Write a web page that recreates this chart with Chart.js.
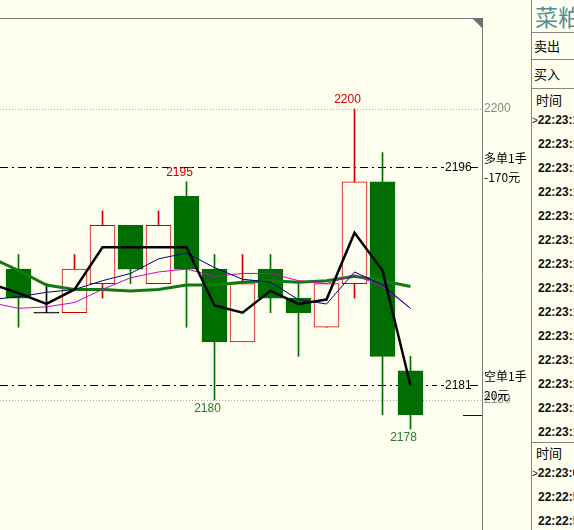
<!DOCTYPE html>
<html lang="zh">
<head>
<meta charset="UTF-8">
<title>菜粕</title>
<script src="https://cdn.jsdelivr.net/npm/chart.js"></script>
<style>
    html, body { margin: 0; padding: 0; background: #FFFFF0; overflow: hidden; }
    #wrap { position: relative; width: 574px; height: 530px; }
    #kline { position: absolute; left: 0; top: 0; }
    #panel {
        position: absolute; left: 531px; top: 0; width: 43px; height: 530px;
        border-left: 1px solid #888; overflow: hidden;
        font-family: "Noto Sans CJK SC", sans-serif; color: #000;
    }
    #panel div { position: absolute; white-space: nowrap; line-height: 1; }
    #panel .hr { left: 0; width: 43px; height: 0; border-top: 1px solid #888; }
    #panel .time { font-family: "Liberation Sans", Arial, sans-serif; font-size: 12px; font-weight: bold; color: #111; }
</style>
</head>
<body>
<div id="wrap">
    <canvas id="kline" width="531" height="530"></canvas>
    <div id="panel"></div>
</div>
<script>
    // candle index 0 sits just off the left edge (only the averages show)
    const idx = [0, 1, 2, 3, 4, 5, 6, 7, 8, 9, 10, 11, 12, 13, 14, 15];
    const opens  = [null, 2189, 2186, 2186, 2188, 2192, 2188, 2194, 2189, 2184, 2189, 2187, 2185, 2188, 2195, 2182];
    const highs  = [null, 2190, 2188, 2190, 2193, 2192, 2193, 2195, 2190, 2190, 2190, 2188, 2188, 2200, 2197, 2183];
    const lows   = [null, 2185, 2186, 2186, 2187, 2188, 2188, 2185, 2180, 2184, 2186, 2183, 2185, 2187, 2179, 2178];
    const closes = [null, 2187, 2186, 2189, 2192, 2189, 2192, 2189, 2184, 2188, 2187, 2186, 2188, 2195, 2183, 2179];

    const maBlack   = [2188.0, 2187.35, 2186.6, 2187.6, 2190.5, 2190.5, 2190.5, 2190.5, 2186.5, 2186.0, 2187.5, 2186.6, 2186.9, 2191.5, 2188.9, 2181.0];
    const maBlue    = [2186.9, 2187.1, 2187.4, 2187.6, 2188.2, 2188.7, 2189.7, 2190.1, 2189.1, 2188.3, 2188.1, 2186.9, 2186.6, 2188.8, 2187.9, 2186.3];
    const maMagenta = [2186.7, 2186.3, 2186.4, 2186.7, 2187.6, 2188.4, 2188.8, 2189.0, 2188.5, 2188.7, 2188.7, 2188.2, 2188.0, 2188.6, 2187.8, 2186.3];
    const maGreen   = [2189.8, 2188.9, 2187.9, 2187.6, 2187.6, 2187.5, 2187.6, 2187.9, 2187.9, 2188.1, 2188.2, 2188.1, 2188.2, 2188.5, 2188.2, 2187.8];

    const highMarks = [7, 13];   // candles with the high written above
    const lowMarks  = [8, 15];   // candles with the low written below

    const orderPrices = [2196, 2181];
    const orderSide   = ['多单1手', '空单1手'];
    const orderPnl    = ['-170元', '20元'];
    const lastMark    = 2179;

    const yTicks = [2180, 2200];

    const panelHead  = ['卖出', '买入', '时间'];
    const tradeTimes = ['22:23:1', '22:23:1', '22:23:1', '22:23:1', '22:23:1', '22:23:1', '22:23:1',
                        '22:23:1', '22:23:1', '22:23:1', '22:23:1', '22:23:1', '22:23:1', '22:23:1'];
    const tickTimes  = ['22:23:0', '22:22:5', '22:22:5'];

    const RED = '#d00000', GREEN = '#006e00', BG = '#FFFFF0';

    const candles = idx.filter(i => opens[i] !== null);
    const upColor = i => closes[i] > opens[i] ? RED : (closes[i] < opens[i] ? GREEN : '#000');

    const font = (size) => size + 'px "Liberation Sans", Arial, sans-serif';
    const cjk = (size) => size + 'px "Noto Sans CJK SC", sans-serif';

    function dashLine(ctx, y, x0, x1) {
        ctx.save();
        ctx.strokeStyle = '#000';
        ctx.lineWidth = 1;
        ctx.setLineDash([8, 4, 2, 4]);
        ctx.beginPath();
        ctx.moveTo(x0, y);
        ctx.lineTo(x1, y);
        ctx.stroke();
        ctx.restore();
    }

    const extras = {
        id: 'extras',
        beforeDatasetsDraw(chart) {
            const {ctx, chartArea: a, scales: {x, y}} = chart;
            ctx.save();
            // dotted price lines
            ctx.strokeStyle = '#aaa';
            ctx.lineWidth = 1;
            ctx.setLineDash([1, 2]);
            yTicks.forEach(v => {
                const py = Math.round(y.getPixelForValue(v)) + 0.5;
                ctx.beginPath();
                ctx.moveTo(a.left, py);
                ctx.lineTo(a.right, py);
                ctx.stroke();
            });
            ctx.restore();
            // open orders
            orderPrices.forEach(p => {
                const py = Math.round(y.getPixelForValue(p)) + 0.5;
                dashLine(ctx, py, a.left, a.right - 45);
            });
            // small marker for the last low
            ctx.save();
            ctx.strokeStyle = '#000080';
            ctx.beginPath();
            const my = Math.round(y.getPixelForValue(lastMark)) + 0.5;
            ctx.moveTo(a.right - 19, my);
            ctx.lineTo(a.right, my);
            ctx.stroke();
            ctx.restore();
        },
        afterDatasetsDraw(chart) {
            const {ctx, chartArea: a, scales: {x, y}} = chart;
            ctx.save();
            ctx.textAlign = 'center';
            ctx.textBaseline = 'middle';
            ctx.font = font(12);
            ctx.fillStyle = '#cc0000';
            highMarks.forEach(i => {
                ctx.fillText(String(highs[i]), x.getPixelForValue(i) - 7, y.getPixelForValue(highs[i]) - 9);
            });
            ctx.fillStyle = '#317531';
            lowMarks.forEach(i => {
                ctx.fillText(String(lows[i]), x.getPixelForValue(i) - 7, y.getPixelForValue(lows[i]) + 9);
            });

            // order labels
            orderPrices.forEach((p, k) => {
                const py = Math.round(y.getPixelForValue(p)) + 0.5;
                ctx.strokeStyle = '#000';
                ctx.lineWidth = 1;
                ctx.beginPath();
                ctx.moveTo(a.right - 41, py);
                ctx.lineTo(a.right - 38, py);
                ctx.moveTo(a.right - 12, py);
                ctx.lineTo(a.right - 4, py);
                ctx.stroke();
                ctx.fillStyle = '#000';
                ctx.textAlign = 'left';
                ctx.font = font(12);
                ctx.fillText(String(p), a.right - 37, py);
                ctx.font = cjk(12);
                ctx.fillText(orderSide[k], a.right + 2, py - 9);
                ctx.fillText(orderPnl[k], a.right + 2, py + 10);
            });

            // frame
            ctx.strokeStyle = '#808080';
            ctx.lineWidth = 1;
            ctx.beginPath();
            ctx.moveTo(a.left, a.top + 0.5);
            ctx.lineTo(a.right + 0.5, a.top + 0.5);
            ctx.lineTo(a.right + 0.5, a.bottom);
            ctx.stroke();
            ctx.fillStyle = '#707070';
            ctx.beginPath();
            ctx.moveTo(a.right - 10, a.top);
            ctx.lineTo(a.right + 1, a.top);
            ctx.lineTo(a.right + 1, a.top + 11);
            ctx.closePath();
            ctx.fill();
            ctx.restore();
        }
    };

    const yMin = 2200 - (530 - 109) / 14.55;
    const yMax = 2200 + (109 - 18) / 14.55;
    const xMin = 1 - 18.5 / 28;

    const lineSet = (label, values, color, width, order) => ({
        type: 'line', label, order,
        data: idx.map(i => ({x: i, y: values[i]})),
        borderColor: color, borderWidth: width,
        pointRadius: 0, tension: 0, fill: false
    });

    new Chart(document.getElementById('kline'), {
        type: 'bar',
        data: {
            datasets: [
                lineSet('价格', maBlack, '#000', 2.5, 1),
                lineSet('MA5', maBlue, '#000080', 1, 2),
                lineSet('MA10', maMagenta, '#cc00cc', 1, 3),
                lineSet('MA20', maGreen, '#107a10', 3, 4),
                {
                    label: 'body', order: 5, grouped: false, barThickness: 25,
                    data: candles.map(i => ({x: i, y: opens[i] === closes[i] ? [opens[i] - 0.04, closes[i] + 0.04] : [opens[i], closes[i]]})),
                    backgroundColor: candles.map(i => closes[i] > opens[i] ? BG : upColor(i)),
                    borderColor: candles.map(upColor),
                    borderWidth: 1, borderSkipped: false
                },
                {
                    label: 'wick', order: 6, grouped: false, barThickness: 1,
                    data: candles.map(i => ({x: i, y: [lows[i], highs[i]]})),
                    backgroundColor: candles.map(upColor),
                    borderWidth: 0
                }
            ]
        },
        options: {
            responsive: false,
            animation: false,
            layout: { padding: { top: 18, left: 0, right: 0, bottom: 0 } },
            plugins: { legend: { display: false }, tooltip: { enabled: false } },
            scales: {
                x: {
                    type: 'linear', display: false, offset: false,
                    min: xMin, max: xMin + 482 / 28
                },
                y: {
                    position: 'right', min: yMin, max: yMax,
                    afterBuildTicks: s => { s.ticks = yTicks.map(v => ({value: v})); },
                    afterFit: s => { s.width = 49; s.paddingTop = 0; s.paddingBottom = 0; },
                    grid: { display: false, drawTicks: false },
                    border: { display: false },
                    ticks: {
                        color: '#888', padding: 2,
                        font: { size: 12, family: '"Liberation Sans", Arial, sans-serif' },
                        callback: v => String(v)
                    }
                }
            }
        },
        plugins: [extras]
    });

    // quote panel on the right
    const panel = document.getElementById('panel');
    function add(html, top, left, cls, style) {
        const d = document.createElement('div');
        d.innerHTML = html;
        d.style.top = top + 'px';
        d.style.left = left + 'px';
        if (cls) d.className = cls;
        if (style) d.style.cssText += style;
        panel.appendChild(d);
    }
    add('菜粕', 5, 3, '', 'font-size:23px;color:#4f9090;');
    [32, 59, 88, 442].forEach(t => add('', t, 0, 'hr'));
    add(panelHead[0], 39, 2, '', 'font-size:13px;');
    add(panelHead[1], 67, 2, '', 'font-size:13px;');
    add(panelHead[2], 93, 4, '', 'font-size:13px;');
    tradeTimes.forEach((t, k) => {
        add((k === 0 ? '<span style="font-weight:normal;font-size:10px">&gt;</span>' : '') + t,
            114 + k * 24, k === 0 ? 0 : 6, 'time');
    });
    add(panelHead[2], 446, 4, '', 'font-size:13px;');
    tickTimes.forEach((t, k) => {
        add((k === 0 ? '<span style="font-weight:normal;font-size:10px">&gt;</span>' : '') + t,
            467 + k * 24, k === 0 ? 0 : 6, 'time');
    });
</script>
</body>
</html>
